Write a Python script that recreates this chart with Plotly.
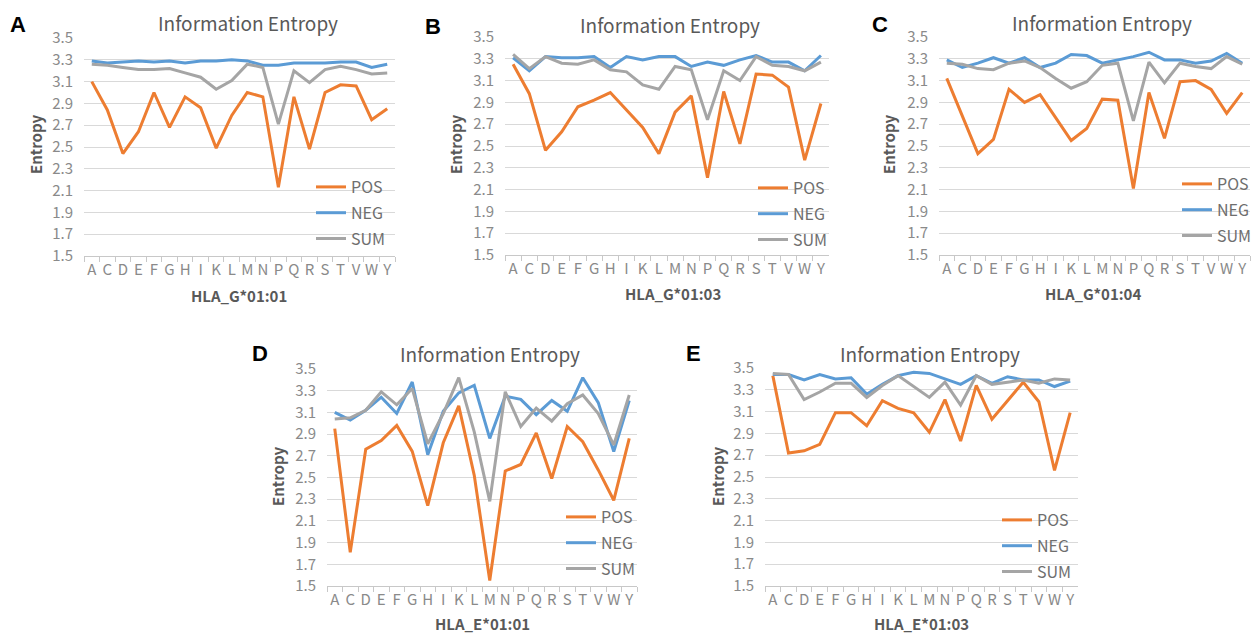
import plotly.graph_objects as go

categories = ["A", "C", "D", "E", "F", "G", "H", "I", "K", "L",
              "M", "N", "P", "Q", "R", "S", "T", "V", "W", "Y"]
series_names = ["POS", "NEG", "SUM"]
y_ticks = [1.5, 1.7, 1.9, 2.1, 2.3, 2.5, 2.7, 2.9, 3.1, 3.3, 3.5]

# Panel A: HLA_G*01:01
a_pos = [3.10, 2.84, 2.44, 2.64, 3.00, 2.68, 2.96, 2.86, 2.49, 2.79,
         3.00, 2.96, 2.13, 2.96, 2.48, 3.00, 3.07, 3.06, 2.75, 2.85]
a_neg = [3.29, 3.27, 3.28, 3.29, 3.28, 3.29, 3.27, 3.29, 3.29, 3.30,
         3.29, 3.25, 3.25, 3.27, 3.27, 3.27, 3.28, 3.28, 3.23, 3.26]
a_sum = [3.26, 3.25, 3.23, 3.21, 3.21, 3.22, 3.18, 3.14, 3.03, 3.11,
         3.26, 3.23, 2.71, 3.20, 3.09, 3.21, 3.24, 3.21, 3.17, 3.18]

# Panel B: HLA_G*01:03
b_pos = [3.25, 2.98, 2.46, 2.63, 2.86, 2.92, 2.99, 2.83, 2.67, 2.43,
         2.81, 2.96, 2.21, 3.00, 2.52, 3.16, 3.15, 3.04, 2.37, 2.89]
b_neg = [3.31, 3.19, 3.32, 3.31, 3.31, 3.32, 3.22, 3.32, 3.29, 3.32,
         3.32, 3.23, 3.27, 3.24, 3.29, 3.33, 3.27, 3.27, 3.19, 3.33]
b_sum = [3.34, 3.21, 3.32, 3.26, 3.25, 3.29, 3.20, 3.18, 3.06, 3.02,
         3.23, 3.20, 2.74, 3.19, 3.10, 3.32, 3.24, 3.23, 3.19, 3.27]

# Panel C: HLA_G*01:04
c_pos = [3.12, 2.78, 2.43, 2.56, 3.02, 2.90, 2.97, 2.76, 2.55, 2.66,
         2.93, 2.92, 2.11, 2.99, 2.57, 3.09, 3.10, 3.02, 2.80, 2.99]
c_neg = [3.29, 3.22, 3.26, 3.31, 3.26, 3.31, 3.22, 3.26, 3.34, 3.33,
         3.26, 3.29, 3.32, 3.36, 3.29, 3.29, 3.26, 3.28, 3.35, 3.26]
c_sum = [3.26, 3.25, 3.21, 3.20, 3.26, 3.28, 3.22, 3.12, 3.03, 3.09,
         3.24, 3.26, 2.73, 3.27, 3.08, 3.26, 3.23, 3.21, 3.32, 3.25]

# Panel D: HLA_E*01:01
d_pos = [2.95, 1.81, 2.76, 2.84, 2.98, 2.74, 2.24, 2.82, 3.16, 2.52,
         1.55, 2.56, 2.62, 2.91, 2.49, 2.97, 2.83, 2.57, 2.29, 2.86]
d_neg = [3.10, 3.03, 3.12, 3.24, 3.09, 3.38, 2.71, 3.11, 3.28, 3.35,
         2.86, 3.25, 3.22, 3.08, 3.21, 3.11, 3.42, 3.19, 2.74, 3.21]
d_sum = [3.04, 3.05, 3.12, 3.29, 3.17, 3.32, 2.81, 3.09, 3.42, 2.92,
         2.28, 3.29, 2.97, 3.14, 3.02, 3.18, 3.26, 3.09, 2.80, 3.26]

# Panel E: HLA_E*01:03
e_pos = [3.43, 2.72, 2.74, 2.80, 3.09, 3.09, 2.97, 3.20, 3.13, 3.09,
         2.91, 3.21, 2.83, 3.34, 3.03, 3.20, 3.37, 3.19, 2.56, 3.09]
e_neg = [3.44, 3.44, 3.39, 3.44, 3.40, 3.41, 3.26, 3.35, 3.43, 3.46,
         3.45, 3.40, 3.35, 3.43, 3.36, 3.42, 3.39, 3.39, 3.33, 3.38]
e_sum = [3.45, 3.44, 3.21, 3.28, 3.36, 3.36, 3.23, 3.34, 3.43, 3.33,
         3.23, 3.37, 3.16, 3.43, 3.35, 3.37, 3.39, 3.36, 3.40, 3.39]

panel_letters = ["A", "B", "C", "D", "E"]
x_titles = ["HLA_G*01:01", "HLA_G*01:03", "HLA_G*01:04", "HLA_E*01:01", "HLA_E*01:03"]
chart_title = "Information Entropy"
y_title = "Entropy"

panel_data = [
    (a_pos, a_neg, a_sum),
    (b_pos, b_neg, b_sum),
    (c_pos, c_neg, c_sum),
    (d_pos, d_neg, d_sum),
    (e_pos, e_neg, e_sum),
]

# ---------- layout (pixel geometry) ----------
W, H = 1255, 634
colors = ["#ED7D31", "#5B9BD5", "#A5A5A5"]
# plot area boxes: x0, x1, y_top, y_bottom (pixels)
boxes = [
    (84, 395, 38, 256),
    (505, 829, 37, 255),
    (939, 1250, 37, 255),
    (327, 637, 369, 586),
    (765, 1078, 368, 586),
]
# legend top-left (pixels)
legend_pos = [(311, 170), (753, 171), (1177, 167), (561, 500), (997, 503)]
title_pos = [(248, 22), (670, 25), (1102, 23), (490, 353), (930, 353)]
xtitle_pos = [(239, 295), (673, 293), (1093, 293), (482, 623), (922, 623)]
ytitle_pos = [(35, 145), (455, 145), (888, 145), (277, 477), (717, 477)]
letter_pos = [(18, 25), (433, 27), (880, 25), (260, 353), (693, 353)]

FONT = "Noto Sans CJK SC"
fig = go.Figure()
layout = dict(
    width=W, height=H,
    margin=dict(l=0, r=0, t=0, b=0, autoexpand=False),
    paper_bgcolor="white", plot_bgcolor="white",
    font=dict(family=FONT, color="#595959"),
    annotations=[],
)

def fx(x):
    return x / W

def fy(y):
    return 1 - y / H

for i, (data, box) in enumerate(zip(panel_data, boxes)):
    n = "" if i == 0 else str(i + 1)
    leg = "legend" + n
    for name, vals, col in zip(series_names, data, colors):
        fig.add_trace(go.Scatter(
            x=categories, y=vals, name=name, mode="lines",
            line=dict(color=col, width=3),
            xaxis="x" + n, yaxis="y" + n, legend=leg,
            legendgroup=panel_letters[i] + "_" + name,
            hoverinfo="x+y+name",
        ))
    x0, x1, yt, yb = box
    layout["xaxis" + n] = dict(
        domain=[fx(x0), fx(x1)], anchor="y" + n,
        type="category", categoryorder="array", categoryarray=categories,
        range=[-0.5, len(categories) - 0.5],
        tickmode="array", tickvals=categories, ticktext=categories,
        tickangle=0, automargin=False,
        showgrid=False, showline=True, linecolor="#c8c8c8", linewidth=1,
        ticks="outside", tickson="boundaries", ticklen=5, tickcolor="#c8c8c8",
        tickfont=dict(size=15, color="#8a8a8a", family=FONT),
        zeroline=False, fixedrange=True,
    )
    layout["yaxis" + n] = dict(
        domain=[fy(yb), fy(yt)], anchor="x" + n,
        range=[1.5, 3.5], tickvals=y_ticks, tickformat=".1f",
        showgrid=True, gridcolor="#d9d9d9", gridwidth=1,
        showline=False, zeroline=False, ticks="", automargin=False,
        ticklabelstandoff=10,
        tickfont=dict(size=15, color="#8a8a8a", family=FONT),
        fixedrange=True,
    )
    lx, ly = legend_pos[i]
    layout[leg] = dict(
        x=fx(lx), y=fy(ly), xanchor="left", yanchor="top",
        xref="paper", yref="paper",
        bgcolor="rgba(0,0,0,0)", borderwidth=0,
        font=dict(size=16, color="#6e6e6e", family=FONT),
        tracegroupgap=2, itemwidth=30, traceorder="grouped",
    )
    tx, ty = title_pos[i]
    layout["annotations"].append(dict(
        text=chart_title, x=fx(tx), y=fy(ty), xref="paper", yref="paper",
        xanchor="center", yanchor="middle", showarrow=False,
        font=dict(size=19, color="#595959", family=FONT),
    ))
    tx, ty = xtitle_pos[i]
    layout["annotations"].append(dict(
        text="<b>" + x_titles[i] + "</b>", x=fx(tx), y=fy(ty), xref="paper", yref="paper",
        xanchor="center", yanchor="middle", showarrow=False,
        font=dict(size=15, color="#595959", family=FONT),
    ))
    tx, ty = ytitle_pos[i]
    layout["annotations"].append(dict(
        text="<b>" + y_title + "</b>", x=fx(tx), y=fy(ty), xref="paper", yref="paper",
        xanchor="center", yanchor="middle", showarrow=False, textangle=-90,
        font=dict(size=15, color="#595959", family=FONT),
    ))
    tx, ty = letter_pos[i]
    layout["annotations"].append(dict(
        text="<b>" + panel_letters[i] + "</b>", x=fx(tx), y=fy(ty), xref="paper", yref="paper",
        xanchor="center", yanchor="middle", showarrow=False,
        font=dict(size=22, color="#000000", family="Liberation Sans"),
    ))

fig.update_layout(**layout)
fig.write_html(
    "out.html",
    config={"displayModeBar": False},
    post_script="document.body.style.margin='0';document.body.style.overflow='hidden';",
)
